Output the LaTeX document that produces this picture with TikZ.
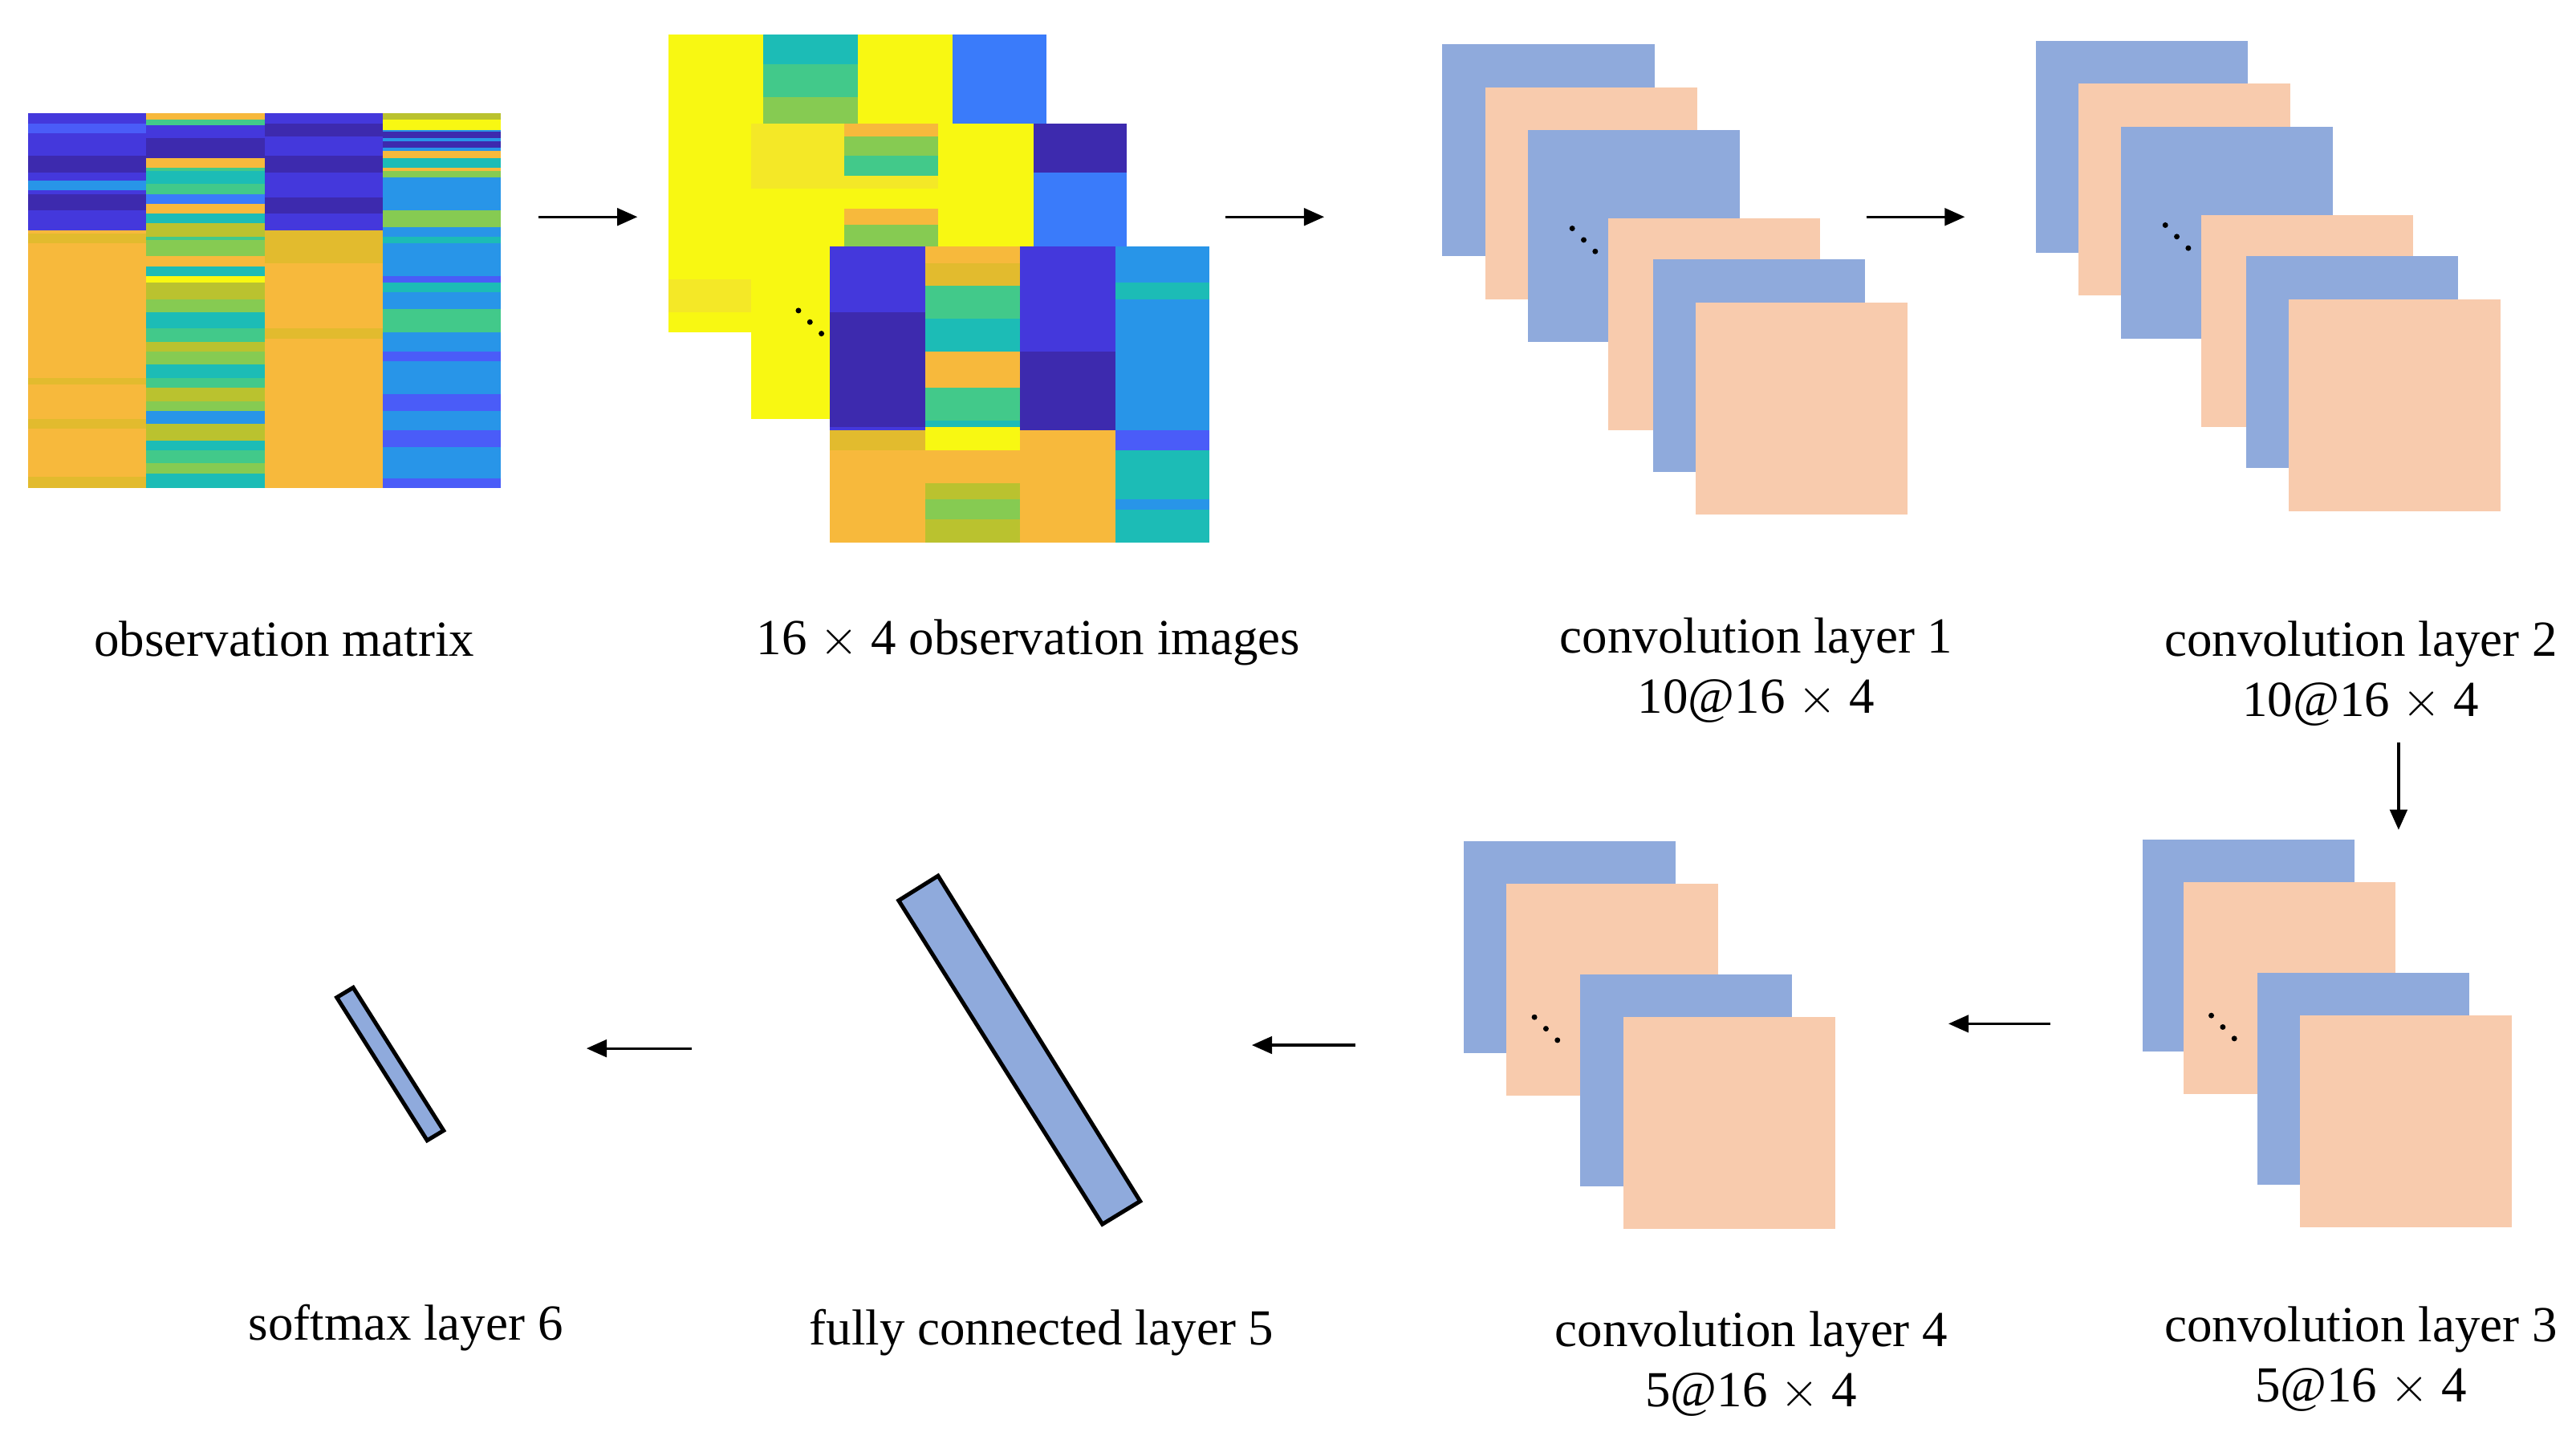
\documentclass[tikz,border=0pt]{standalone}
\usepackage{fontspec}
\setmainfont{Liberation Serif}
\usetikzlibrary{arrows.meta}
\begin{document}
\definecolor{lb}{HTML}{8FAADC}\definecolor{pc}{HTML}{F8CBAD}
\definecolor{ind}{HTML}{4438DC}\definecolor{dind}{HTML}{3D2AAE}\definecolor{bl}{HTML}{2895E8}
\definecolor{bbl}{HTML}{3A7BFA}\definecolor{vbl}{HTML}{4A5CF8}\definecolor{tl}{HTML}{1CBCB6}\definecolor{gr}{HTML}{42C98A}
\definecolor{lg}{HTML}{86CB52}\definecolor{yg}{HTML}{BAC22F}\definecolor{og}{HTML}{F7B93C}\definecolor{dog}{HTML}{E2BB2E}
\definecolor{ye}{HTML}{F8F812}\definecolor{ye2}{HTML}{F4E827}
\begin{tikzpicture}[x=0.02cm,y=-0.02cm,
  lbl/.style={font=\fontsize{17.5}{21}\selectfont,align=center},
  arr/.style={-{Triangle[length=7pt,width=6pt]},line width=0.9pt},
  fm/.style={inner sep=0,outer sep=0,minimum width=2.58cm,minimum height=2.58cm,anchor=north west}]
\useasboundingbox (0,0) rectangle (1568,876);
\newcommand{\strp}[4]{%
  \foreach \yy/\hh/\cc in {#4} {\fill[\cc] (#1,\yy) rectangle ++(#2,\hh);}}
% observation matrix
\strp{17}{72}{69}{69/71/ind,75/6/vbl,95/10/dind,110/6/bl,118/10/dind,128/12/ind,140/157/og,142/6/dog,230/4/dog,255/6/dog,290/7/dog}
\strp{89}{72}{69}{69/228/gr,69/4/og,76/8/ind,84/12/dind,96/6/og,104/8/tl,118/6/bbl,124/6/og,130/6/tl,136/8/yg,146/10/lg,156/6/og,162/6/tl,168/4/ye,172/10/yg,182/8/lg,190/10/tl,200/8/gr,208/6/yg,214/8/lg,222/8/tl,230/6/gr,236/8/yg,244/8/lg,250/8/bl,258/10/yg,268/6/tl,274/8/gr,282/6/lg,288/9/tl}
\strp{161}{72}{69}{69/71/ind,75/8/dind,95/10/dind,120/10/dind,140/157/og,140/20/dog,200/6/dog}
\strp{233}{72}{69}{69/228/bl,69/4/yg,73/6/ye,80/4/dind,86/4/dind,92/4/og,96/6/tl,102/4/og,104/4/lg,112/16/bl,128/10/lg,138/6/bl,144/4/tl,168/6/vbl,172/6/tl,188/14/gr,214/6/vbl,240/10/vbl,262/10/vbl,291/6/vbl}
% observation images
\strp{407}{57.5}{0}{21/181/ye}
\strp{464.5}{57.5}{0}{21/181/lg,21/18/tl,39/20/gr}
\strp{522}{58}{0}{21/181/ye}
\strp{580}{57}{0}{21/54/bbl}
\fill[ye2] (407,170) rectangle (457,190);
\strp{457}{57}{0}{75/180/ye,75/40/ye2}
\strp{514}{57}{0}{75/180/ye,75/8/og,83/12/lg,95/12/gr,107/8/ye2,115/12/ye,127/10/og,137/13/lg}
\strp{571}{58}{0}{75/180/ye}
\strp{629}{57}{0}{75/30/dind,105/150/bbl}
\strp{505}{58}{0}{150/180/ind,190/40/dind,230/30/dind,262/12/dog,274/56/og}
\strp{563}{58}{0}{150/180/gr,150/10/og,160/14/dog,174/20/gr,194/20/tl,214/22/og,236/20/gr,256/4/tl,260/14/ye,274/20/og,294/10/yg,304/12/lg,316/14/yg}
\strp{621}{58}{0}{150/180/ind,214/20/dind,234/28/dind,262/68/og}
\strp{679}{57}{0}{150/180/bl,150/20/bl,172/10/tl,262/12/vbl,274/30/tl,304/6/bl,310/20/tl}
\foreach \i in {0,1,2} \fill (486+7*\i,189+7*\i) circle (1.7);
% conv layer 1
\foreach \n/\x/\y/\c in {a/878/27/lb,b/904/53/pc,c/930/79/lb,d/979/133/pc,e/1006/158/lb,f/1032/184/pc}
  \node[fm,fill=\c] (c1\n) at (\x,\y) {};
\foreach \i in {0,1,2} \fill (957+7*\i,139+7*\i) circle (1.7);
% conv layer 2
\foreach \n/\x/\y/\c in {a/1239/25/lb,b/1265/51/pc,c/1291/77/lb,d/1340/131/pc,e/1367/156/lb,f/1393/182/pc}
  \node[fm,fill=\c] (c2\n) at (\x,\y) {};
\foreach \i in {0,1,2} \fill (1318+7*\i,137+7*\i) circle (1.7);
% conv layer 3
\foreach \n/\x/\y/\c in {a/1304/511/lb,b/1329/537/pc,c/1374/592/lb,d/1400/618/pc}
  \node[fm,fill=\c] (c3\n) at (\x,\y) {};
\foreach \i in {0,1,2} \fill (1346+7*\i,618+7*\i) circle (1.7);
% conv layer 4
\foreach \n/\x/\y/\c in {a/891/512/lb,b/917/538/pc,c/962/593/lb,d/988/619/pc}
  \node[fm,fill=\c] (c4\n) at (\x,\y) {};
\foreach \i in {0,1,2} \fill (934+7*\i,619+7*\i) circle (1.7);
% fc and softmax
\draw[fill=lb,line width=1.4pt] (547,548) -- (571,533) -- (694,731) -- (671,745) -- cycle;
\draw[fill=lb,line width=1.4pt] (205,607) -- (215,601) -- (270,688) -- (260,694) -- cycle;
% arrows
\foreach \n/\xa/\ya/\xb/\yb in {1/328/132/388/132,2/746/132/806/132,3/1136/132/1196/132,4/1460/452/1460/505,5/1248/623/1186/623,6/825/636/762/636,7/421/638/357/638}
 {\coordinate (s\n) at (\xa,\ya); \coordinate (t\n) at (\xb,\yb); \draw[arr] (s\n) -- (t\n);}
% labels
\node[lbl] (l1) at (173,389) {observation matrix};
\node[lbl] (l2) at (626,391) {16 $\times$ 4 observation images};
\node[lbl] (l3) at (1069,408) {convolution layer 1\\10@16 $\times$ 4};
\node[lbl] (l4) at (1437,410) {convolution layer 2\\10@16 $\times$ 4};
\node[lbl] (l5) at (1437,827) {convolution layer 3\\5@16 $\times$ 4};
\node[lbl] (l6) at (1066,830) {convolution layer 4\\5@16 $\times$ 4};
\node[lbl] (l7) at (634,811) {fully connected layer 5};
\node[lbl] (l8) at (247,808) {softmax layer 6};
\end{tikzpicture}
\end{document}
